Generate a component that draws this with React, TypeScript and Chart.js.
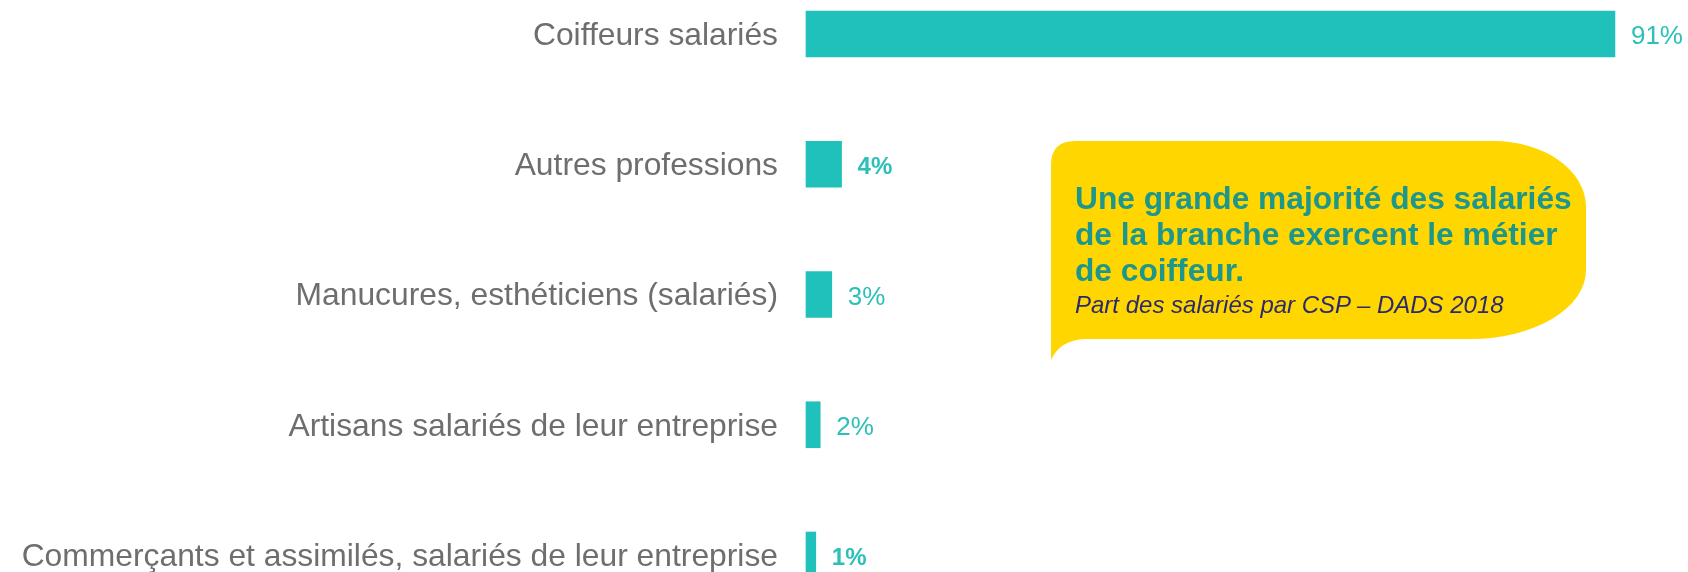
import React, { useEffect, useRef } from "react";
import { Chart, registerables } from "chart.js";

Chart.register(...registerables);

const categories = [
  "Coiffeurs salariés",
  "Autres professions",
  "Manucures, esthéticiens (salariés)",
  "Artisans salariés de leur entreprise",
  "Commerçants et assimilés, salariés de leur entreprise",
];
const shares = [91, 4, 2.9, 1.6, 1.1];
const shareLabels = ["91%", "4%", "3%", "2%", "1%"];
const labelBold = [false, true, false, false, true];
const xMax = 95;

const calloutTitle = [
  "Une grande majorité des salariés",
  "de la branche exercent le métier",
  "de coiffeur.",
];
const calloutSubtitle = "Part des salariés par CSP – DADS 2018";

const FONT = '"Liberation Sans", Arial, Helvetica, sans-serif';

const valueLabelPlugin = {
  id: "valueLabels",
  afterDatasetsDraw(chart: any) {
    const ctx = chart.ctx;
    const meta = chart.getDatasetMeta(0);
    ctx.save();
    meta.data.forEach((bar: any, i: number) => {
      const bold = labelBold[i];
      ctx.font = `${bold ? "bold " : ""}${bold ? 24 : 26}px ${FONT}`;
      ctx.fillStyle = "#2cc0b9";
      ctx.textAlign = "left";
      ctx.textBaseline = "middle";
      ctx.fillText(shareLabels[i], bar.x + 16, bar.y + 3);
    });
    ctx.restore();
  },
};

export default function App() {
  const canvasRef = useRef<HTMLCanvasElement | null>(null);

  useEffect(() => {
    if (!canvasRef.current) return;
    const chart = new Chart(canvasRef.current, {
      type: "bar",
      data: {
        labels: categories,
        datasets: [
          {
            data: shares,
            backgroundColor: "#21c1bb",
            borderWidth: 0,
            barThickness: 46,
            clip: false as any,
          },
        ],
      },
      options: {
        indexAxis: "y",
        responsive: false,
        animation: false,
        devicePixelRatio: 1,
        layout: { padding: { top: 34, bottom: 17, left: 0, right: 37.5 } },
        plugins: {
          legend: { display: false },
          tooltip: { enabled: false },
        },
        scales: {
          x: { display: false, min: 0, max: xMax },
          y: {
            offset: false,
            grid: { display: false, drawTicks: false },
            border: { display: false },
            ticks: {
              color: "#6e6e6e",
              font: { family: FONT, size: 31.8, lineHeight: 1 },
              padding: 28,
              labelOffset: 2,
            },
            afterFit: (s: any) => {
              s.width = 806;
              s.paddingTop = 0;
              s.paddingBottom = 0;
            },
          },
        },
      } as any,
      plugins: [valueLabelPlugin],
    });
    return () => chart.destroy();
  }, []);

  const titleStyle: React.CSSProperties = {
    position: "absolute",
    left: 1075,
    top: 180,
    margin: 0,
    fontFamily: FONT,
    fontWeight: "bold",
    fontSize: 31.7,
    lineHeight: "36px",
    color: "#1d968c",
    whiteSpace: "nowrap",
  };
  const subStyle: React.CSSProperties = {
    position: "absolute",
    left: 1075,
    top: 290.5,
    margin: 0,
    fontFamily: FONT,
    fontStyle: "italic",
    fontSize: 24,
    lineHeight: "28px",
    color: "#2a2a6e",
    whiteSpace: "nowrap",
  };

  return (
    <div
      style={{
        position: "fixed",
        left: 0,
        top: 0,
        width: 1688,
        height: 572,
        background: "#ffffff",
        overflow: "hidden",
      }}
    >
      <canvas
        ref={canvasRef}
        width={1688}
        height={572}
        style={{ display: "block", width: 1688, height: 572 }}
      />
      <svg
        width={1688}
        height={572}
        style={{ position: "absolute", left: 0, top: 0, pointerEvents: "none" }}
      >
        <path
          d="M 1051 165 Q 1051 141 1075 141 L 1493 141 A 93 66 0 0 1 1586 207 L 1586 270 A 115 69 0 0 1 1471 339 L 1085 339 Q 1060 340 1051 360 Z"
          fill="#ffd600"
        />
      </svg>
      <div style={titleStyle}>
        {calloutTitle.map((t, i) => (
          <div key={i}>{t}</div>
        ))}
      </div>
      <div style={subStyle}>{calloutSubtitle}</div>
    </div>
  );
}
